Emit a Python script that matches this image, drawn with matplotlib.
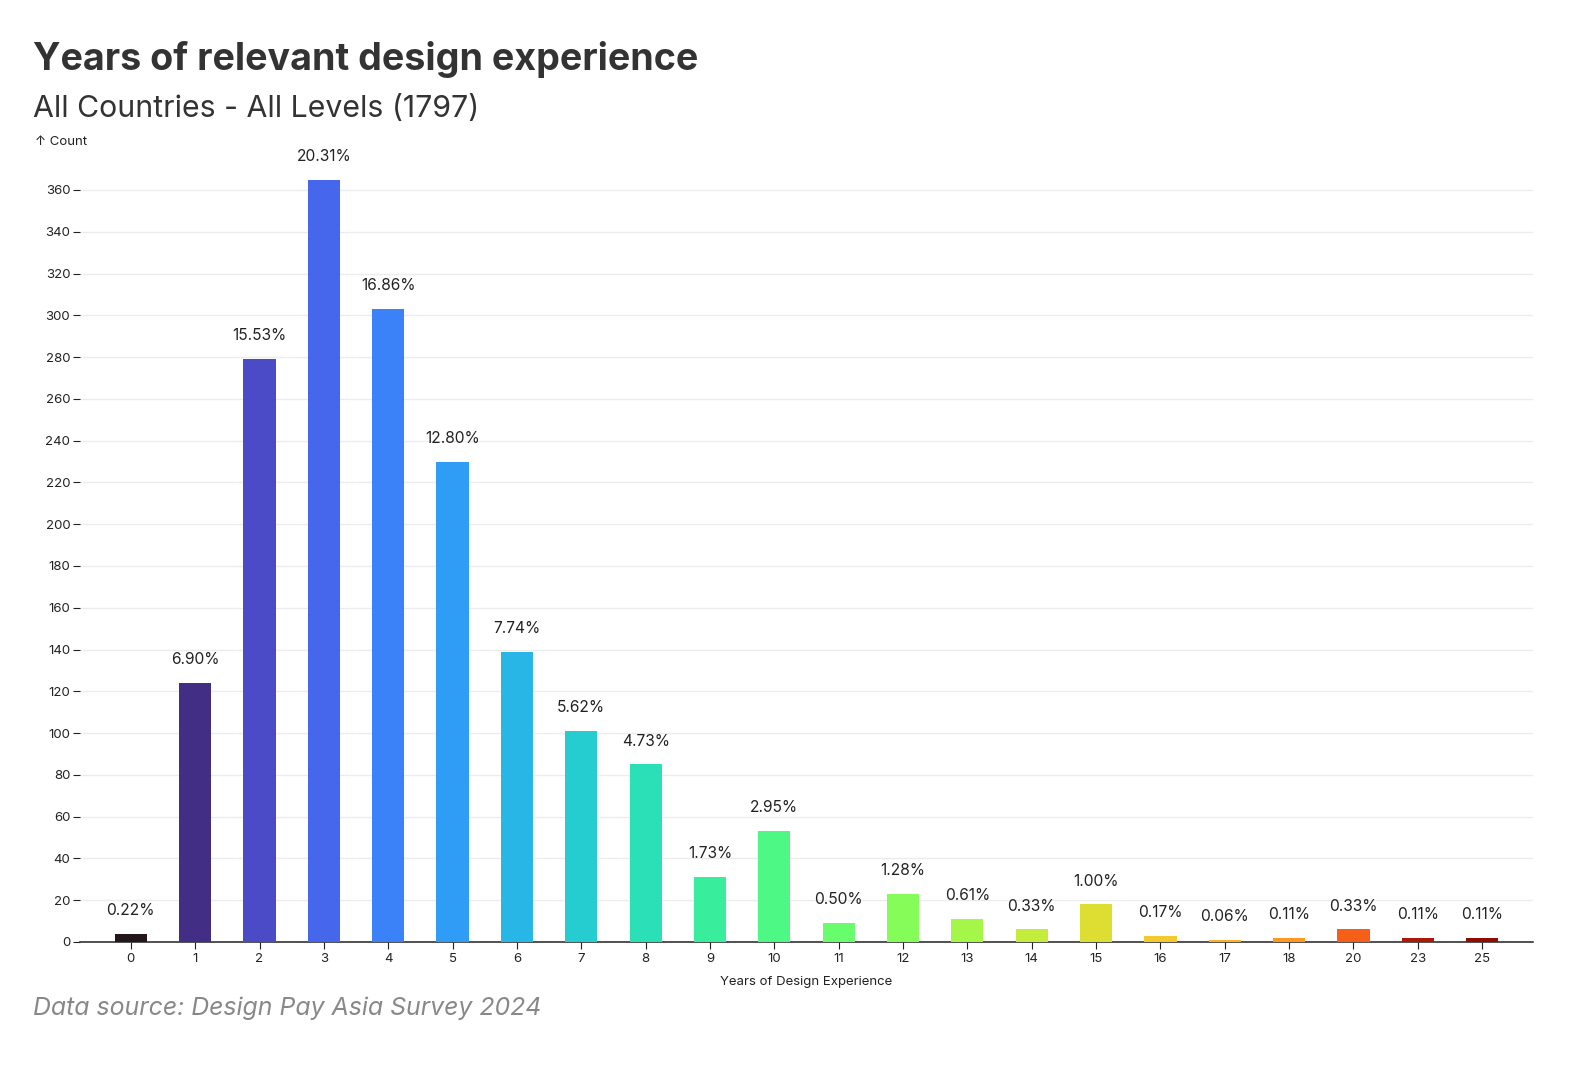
import matplotlib
matplotlib.use("Agg")
import matplotlib.pyplot as plt
import numpy as np

YEARS = ["0", "1", "2", "3", "4", "5", "6", "7", "8", "9", "10", "11",
         "12", "13", "14", "15", "16", "17", "18", "20", "23", "25"]
COUNTS = [4, 124, 279, 365, 303, 230, 139, 101, 85, 31, 53, 9,
          23, 11, 6, 18, 3, 1, 2, 6, 2, 2]
PERCENTS = ["0.22%", "6.90%", "15.53%", "20.31%", "16.86%", "12.80%", "7.74%",
            "5.62%", "4.73%", "1.73%", "2.95%", "0.50%", "1.28%", "0.61%",
            "0.33%", "1.00%", "0.17%", "0.06%", "0.11%", "0.33%", "0.11%", "0.11%"]
TOTAL = 1797

TITLE = "Years of relevant design experience"
SUBTITLE = f"All Countries - All Levels ({TOTAL})"
SOURCE = "Data source: Design Pay Asia Survey 2024"

FONT = ["Inter", "DejaVu Sans"]


def turbo(t: float) -> str:
    # same polynomial as d3.interpolateTurbo
    t = max(0.0, min(1.0, t))
    r = 34.61 + t * (1172.33 - t * (10793.56 - t * (33300.12 - t * (38394.49 - t * 14825.05))))
    g = 23.31 + t * (557.33 + t * (1225.33 - t * (3574.96 - t * (1073.77 + t * 707.56))))
    b = 27.2 + t * (3211.1 - t * (15327.97 - t * (27814 - t * (22569.18 - t * 6838.66))))
    rgb = [max(0, min(255, round(v))) for v in (r, g, b)]
    return "#{:02x}{:02x}{:02x}".format(*rgb)


def main() -> None:
    plt.rcParams["font.family"] = FONT
    W, H = 1590, 1084
    fig = plt.figure(figsize=(W / 100, H / 100), dpi=100)

    left, right, top, bottom = 80, 1533, 179.5, 942
    ax = fig.add_axes([left / W, 1 - bottom / H, (right - left) / W, (bottom - top) / H])

    x = np.arange(len(YEARS))
    year_values = [int(y) for y in YEARS]
    colors = [turbo(y / max(year_values)) for y in year_values]
    ax.bar(x, COUNTS, width=0.5, color=colors, zorder=3)

    for xi, c, p in zip(x, COUNTS, PERCENTS):
        ax.annotate(p, (xi, c), xytext=(0, 16.8), textcoords="offset points",
                    ha="center", va="center", fontsize=11.2, color="#222222")

    ax.set_xlim(-0.79, len(YEARS) - 1 + 0.79)
    ax.set_ylim(0, max(COUNTS))
    ax.set_xticks(x)
    ax.set_xticklabels(YEARS)
    ax.set_yticks(np.arange(0, 361, 20))
    ax.tick_params(axis="both", labelsize=9.5, colors="#222222", length=5, width=0.8)
    ax.tick_params(axis="y", pad=2)
    ax.tick_params(axis="x", pad=3)
    ax.grid(axis="y", color="#ececec", linewidth=1, zorder=0)
    for side in ("left", "right", "top"):
        ax.spines[side].set_visible(False)
    ax.spines["bottom"].set_color("#222222")
    ax.spines["bottom"].set_linewidth(1.1)
    ax.set_xlabel("Years of Design Experience", fontsize=9.5, color="#222222", labelpad=8)

    fig.text(33 / W, 1 - 60 / H, TITLE, fontsize=27.1, fontweight="bold",
             color="#333333", va="center", ha="left")
    fig.text(33 / W, 1 - 108.5 / H, SUBTITLE, fontsize=21.8, color="#333333",
             va="center", ha="left")
    fig.text(35 / W, 1 - 142 / H, "\u2191 Count", fontsize=9.5, color="#222222",
             va="center", ha="left")
    fig.text(33 / W, 1 - 1008 / H, SOURCE, fontsize=17.9, style="italic",
             color="#888888", va="center", ha="left")

    fig.savefig("out.png", dpi=100, facecolor="white")


if __name__ == "__main__":
    main()
